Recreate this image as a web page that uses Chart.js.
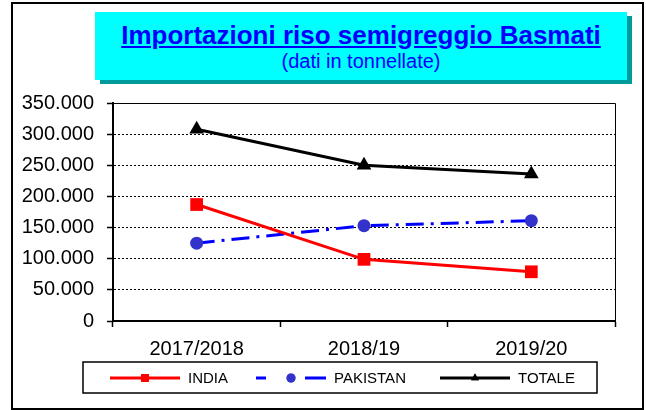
<!DOCTYPE html>
<html>
<head>
<meta charset="utf-8">
<script src="https://cdn.jsdelivr.net/npm/chart.js@4/dist/chart.umd.min.js"></script>
<style>
  body { margin: 0; background: #fff; font-family: "Liberation Sans", Arial, sans-serif; }
  #wrap { position: relative; width: 646px; height: 410px; }
  #frame { position: absolute; left: 11px; top: 2px; width: 629px; height: 404px; border: 2px solid #000; }
  #titlebox { position: absolute; left: 95px; top: 12px; width: 532px; height: 68px; background: #00ffff;
    box-shadow: 5px 4px 0 #009a9a; text-align: center; color: #0000ff; }
  #titlebox .t1 { font-weight: bold; font-size: 26px; text-decoration: underline; margin-top: 9px; line-height: 28px; }
  #titlebox .t2 { font-size: 20px; line-height: 24px; }
  canvas { position: absolute; left: 0; top: 0; }
</style>
</head>
<body>
<div id="wrap">
  <div id="frame"></div>
  <div id="titlebox">
    <div class="t1">Importazioni riso semigreggio Basmati</div>
    <div class="t2">(dati in tonnellate)</div>
  </div>
  <canvas id="myChart" width="646" height="410"></canvas>
</div>
<script>
  const categories = ['2017/2018', '2018/19', '2019/20'];
  const india = [187000, 99000, 79000];
  const pakistan = [125000, 153000, 161000];
  const totale = [308000, 250000, 236000];

  const fmt = v => String(v).replace(/\B(?=(\d{3})+(?!\d))/g, '.');

  // top + right border of the plot, solid
  const plotFrame = {
    id: 'plotFrame',
    afterDatasetsDraw(chart) {
      const {ctx, chartArea: a} = chart;
      ctx.save();
      ctx.strokeStyle = '#000';
      ctx.lineWidth = 1;
      ctx.beginPath();
      ctx.moveTo(a.left - 6, a.top + 0.5);
      ctx.lineTo(a.right + 0.5, a.top + 0.5);
      ctx.lineTo(a.right + 0.5, a.bottom);
      ctx.stroke();
      ctx.restore();
    }
  };

  // legend in a box, line + marker like the original
  const boxLegend = {
    id: 'boxLegend',
    afterDraw(chart) {
      const ctx = chart.ctx;
      const starts = [110, 256, 440];
      ctx.save();
      ctx.strokeStyle = '#000';
      ctx.lineWidth = 1.5;
      ctx.strokeRect(83, 362, 514, 31);
      ctx.font = '15px "Liberation Sans", Arial';
      ctx.textBaseline = 'middle';
      const y = 378;
      chart.data.datasets.forEach((ds, i) => {
        const x = starts[i];
        ctx.save();
        ctx.strokeStyle = ds.borderColor;
        ctx.lineWidth = 3;
        ctx.setLineDash(ds.legendDash || []);
        ctx.beginPath();
        ctx.moveTo(x, y);
        ctx.lineTo(x + 70, y);
        ctx.stroke();
        ctx.restore();
        ctx.fillStyle = ds.pointBackgroundColor;
        ctx.beginPath();
        Chart.helpers.drawPoint(ctx, {pointStyle: ds.pointStyle, radius: ds.pointStyle === 'rect' ? 5.5 : 4.5, borderWidth: 0}, x + 35, y);
        ctx.fill();
        ctx.fillStyle = '#000';
        ctx.fillText(ds.label, x + 78, y + 1);
      });
      ctx.restore();
    }
  };

  new Chart(document.getElementById('myChart'), {
    type: 'line',
    data: {
      labels: categories,
      datasets: [{
        label: 'INDIA',
        data: india,
        borderColor: '#ff0000',
        borderWidth: 3,
        pointStyle: 'rect',
        pointRadius: 9,
        pointBackgroundColor: '#ff0000',
        pointBorderColor: '#ff0000',
        pointBorderWidth: 0
      }, {
        label: 'PAKISTAN',
        data: pakistan,
        borderColor: '#0000ff',
        borderWidth: 3,
        borderDash: [18, 7, 3, 7],
        legendDash: [10, 39, 21],
        pointStyle: 'circle',
        pointRadius: 6.5,
        pointBackgroundColor: '#3333cc',
        pointBorderColor: '#3333cc',
        pointBorderWidth: 0
      }, {
        label: 'TOTALE',
        data: totale,
        borderColor: '#000000',
        borderWidth: 3,
        pointStyle: 'triangle',
        pointRadius: 8.5,
        pointBackgroundColor: '#000000',
        pointBorderColor: '#000000',
        pointBorderWidth: 0
      }]
    },
    options: {
      responsive: false,
      devicePixelRatio: 1,
      animation: false,
      layout: { padding: { left: 0, top: 103, right: 31, bottom: 0 } },
      plugins: { legend: { display: false }, title: { display: false }, tooltip: { enabled: false } },
      scales: {
        x: {
          offset: true,
          grid: { offset: true, drawOnChartArea: false, drawTicks: true, tickLength: 6, color: '#000', tickColor: '#000', tickWidth: 1.5 },
          border: { color: '#000', width: 2 },
          ticks: { color: '#000', padding: 10, maxRotation: 0, font: { family: '"Liberation Sans", Arial', size: 20 } },
          afterFit(scale) { scale.height = 89; }
        },
        y: {
          min: 0,
          max: 350000,
          grid: { color: '#000', lineWidth: 1, tickLength: 6, tickColor: '#000', tickWidth: 1.5 },
          border: { color: '#000', width: 2, dash: [2, 2] },
          ticks: {
            stepSize: 50000,
            color: '#000',
            padding: 13,
            font: { family: '"Liberation Sans", Arial', size: 20 },
            callback: v => fmt(v)
          },
          afterFit(scale) { scale.width = 113; }
        }
      }
    },
    plugins: [plotFrame, boxLegend]
  });
</script>
</body>
</html>
